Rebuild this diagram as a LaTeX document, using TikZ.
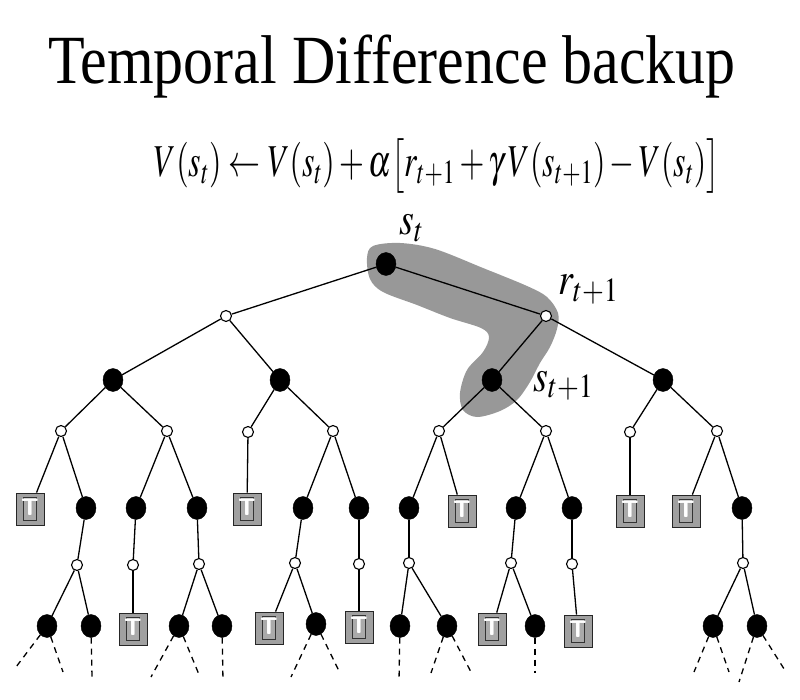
\documentclass[tikz,border=0pt]{standalone}
\usepackage{mathptmx}
\usepackage[no-math]{fontspec}
\setmainfont{Liberation Serif}
\usepackage{graphicx}
\usetikzlibrary{shapes.geometric}
\definecolor{blobgray}{RGB}{152,152,152}
\definecolor{boxgray}{RGB}{160,160,160}
\definecolor{innergray}{RGB}{170,170,170}
\tikzset{
  edge/.style={line width=1.3pt},
  dashedge/.style={line width=1.3pt, dash pattern=on 6pt off 5pt},
  bnode/.style={ellipse, fill=black, draw=black, minimum width=20pt, minimum height=23pt, inner sep=0pt},
  wnode/.style={circle, fill=white, draw=black, line width=1.1pt, minimum size=11pt, inner sep=0pt},
  tbox/.style={rectangle, fill=boxgray, draw=black!85, line width=0.8pt, minimum width=28pt, minimum height=32pt, inner sep=0pt,
    path picture={
      \draw[fill=innergray, draw=black!80, line width=0.8pt]
        ([xshift=-6.5pt,yshift=-11.5pt]path picture bounding box.center) rectangle ([xshift=6.5pt,yshift=11.5pt]path picture bounding box.center);
      \node[text=white, font=\fontsize{24}{24}\selectfont\sffamily\bfseries, inner sep=0pt, anchor=center]
        at ([yshift=2pt]path picture bounding box.center) {T};
    }},
  lbl/.style={font=\fontsize{38}{40}\selectfont, inner sep=0pt},
}
\begin{document}
\begin{tikzpicture}[x=1pt,y=-1pt]
\useasboundingbox (0,0) rectangle (800,700);
% title and formula
\node[font=\fontsize{60}{64}\selectfont, anchor=base, inner sep=0pt] (title) at (392,84) {\scalebox{1}[1.15]{Temporal Difference backup}};
\node[lbl, anchor=base] (formula) at (437,177) {\scalebox{0.84}[1.2]{$V(s_t)\leftarrow V(s_t)+\alpha\big[r_{t+1}+\gamma\,V(s_{t+1})-V(s_t)\big]$}};
% highlight blob
\fill[blobgray] plot[smooth cycle, tension=0.55] coordinates {
 (373,246) (400,243) (435,249) (483,268) (527,286) (547,297) (558,313) (557,329)
 (550,347) (540,363) (530,382) (517,400) (500,411) (477,417) (463,410) (460,393)
 (467,370) (483,352) (489,337) (481,328) (450,318) (417,305) (383,292) (370,279) (367,258)};
% labels
\node[lbl, anchor=base west] (lst) at (399,235) {\scalebox{1}[1.2]{$s_t$}};
\node[lbl, anchor=base west] (lrt) at (558,295) {\scalebox{1}[1.2]{$r_{t+1}$}};
\node[lbl, anchor=base west] (lst1) at (533,391) {\scalebox{1}[1.2]{$s_{t+1}$}};
% nodes
\node[bnode] (root) at (386,264) {};
\node[wnode] (a1) at (226,316) {};
\node[wnode] (a2) at (546,316) {};
\node[bnode] (b1) at (113,380) {};
\node[bnode] (b2) at (280,380) {};
\node[bnode] (b3) at (492,380) {};
\node[bnode] (b4) at (663,380) {};
\node[wnode] (c1) at (61,431) {};
\node[wnode] (c2) at (167,431) {};
\node[wnode] (c3) at (248,432) {};
\node[wnode] (c4) at (333,431) {};
\node[wnode] (c5) at (439,431) {};
\node[wnode] (c6) at (546,431) {};
\node[wnode] (c7) at (630,432) {};
\node[wnode] (c8) at (717,431) {};
\node[tbox] (d1) at (30,509) {};
\node[bnode] (d2) at (86,508) {};
\node[bnode] (d3) at (136,508) {};
\node[bnode] (d4) at (197,508) {};
\node[tbox] (d5) at (247,509) {};
\node[bnode] (d6) at (303,508) {};
\node[bnode] (d7) at (359,508) {};
\node[bnode] (d8) at (409,508) {};
\node[tbox] (d9) at (462,511) {};
\node[bnode] (d10) at (516,508) {};
\node[bnode] (d11) at (572,508) {};
\node[tbox] (d12) at (630,511) {};
\node[tbox] (d13) at (686,511) {};
\node[bnode] (d14) at (742,508) {};
\node[wnode] (e1) at (77,565) {};
\node[wnode] (e2) at (133,565) {};
\node[wnode] (e3) at (199,564) {};
\node[wnode] (e4) at (295,563) {};
\node[wnode] (e5) at (359,564) {};
\node[wnode] (e6) at (409,563) {};
\node[wnode] (e7) at (511,563) {};
\node[wnode] (e8) at (572,564) {};
\node[wnode] (e9) at (743,563) {};
\node[bnode] (f1) at (47,626) {};
\node[bnode] (f2) at (91,626) {};
\node[tbox] (f3) at (133,629) {};
\node[bnode] (f4) at (179,626) {};
\node[bnode] (f5) at (222,626) {};
\node[tbox] (f6) at (269,628) {};
\node[bnode] (f7) at (316,624) {};
\node[tbox] (f8) at (359,627) {};
\node[bnode] (f9) at (400,626) {};
\node[bnode] (f10) at (447,626) {};
\node[tbox] (f11) at (492,629) {};
\node[bnode] (f12) at (535,626) {};
\node[tbox] (f13) at (578,631) {};
\node[bnode] (f14) at (713,626) {};
\node[bnode] (f15) at (757,626) {};
% free ends of dashed lines
\coordinate (g1) at (16,667);  \coordinate (g2) at (63,672);
\coordinate (g3) at (92,677);
\coordinate (g4) at (151,677); \coordinate (g5) at (200,677);
\coordinate (g6) at (223,681);
\coordinate (g7) at (291,677); \coordinate (g8) at (340,673);
\coordinate (g9) at (399,681);
\coordinate (g10) at (431,673); \coordinate (g11) at (471,672);
\coordinate (g12) at (535,673);
\coordinate (g13) at (694,672); \coordinate (g14) at (729,672);
\coordinate (g15) at (739,682); \coordinate (g16) at (786,672);
% edges
\draw[edge] (root) -- (a1);
\draw[edge] (root) -- (a2);
\draw[edge] (a1) -- (b1); \draw[edge] (a1) -- (b2);
\draw[edge] (a2) -- (b3); \draw[edge] (a2) -- (b4);
\draw[edge] (b1) -- (c1); \draw[edge] (b1) -- (c2);
\draw[edge] (b2) -- (c3); \draw[edge] (b2) -- (c4);
\draw[edge] (b3) -- (c5); \draw[edge] (b3) -- (c6);
\draw[edge] (b4) -- (c7); \draw[edge] (b4) -- (c8);
\draw[edge] (c1) -- (d1); \draw[edge] (c1) -- (d2);
\draw[edge] (c2) -- (d3); \draw[edge] (c2) -- (d4);
\draw[edge] (c3) -- (d5);
\draw[edge] (c4) -- (d6); \draw[edge] (c4) -- (d7);
\draw[edge] (c5) -- (d8); \draw[edge] (c5) -- (d9);
\draw[edge] (c6) -- (d10); \draw[edge] (c6) -- (d11);
\draw[edge] (c7) -- (d12);
\draw[edge] (c8) -- (d13); \draw[edge] (c8) -- (d14);
\draw[edge] (d2) -- (e1); \draw[edge] (d3) -- (e2); \draw[edge] (d4) -- (e3);
\draw[edge] (d6) -- (e4); \draw[edge] (d7) -- (e5); \draw[edge] (d8) -- (e6);
\draw[edge] (d10) -- (e7); \draw[edge] (d11) -- (e8); \draw[edge] (d14) -- (e9);
\draw[edge] (e1) -- (f1); \draw[edge] (e1) -- (f2);
\draw[edge] (e2) -- (f3);
\draw[edge] (e3) -- (f4); \draw[edge] (e3) -- (f5);
\draw[edge] (e4) -- (f6); \draw[edge] (e4) -- (f7);
\draw[edge] (e5) -- (f8);
\draw[edge] (e6) -- (f9); \draw[edge] (e6) -- (f10);
\draw[edge] (e7) -- (f11); \draw[edge] (e7) -- (f12);
\draw[edge] (e8) -- (f13);
\draw[edge] (e9) -- (f14); \draw[edge] (e9) -- (f15);
% dashed continuations
\draw[dashedge] (f1) -- (g1); \draw[dashedge] (f1) -- (g2);
\draw[dashedge] (f2) -- (g3);
\draw[dashedge] (f4) -- (g4); \draw[dashedge] (f4) -- (g5);
\draw[dashedge] (f5) -- (g6);
\draw[dashedge] (f7) -- (g7); \draw[dashedge] (f7) -- (g8);
\draw[dashedge] (f9) -- (g9);
\draw[dashedge] (f10) -- (g10); \draw[dashedge] (f10) -- (g11);
\draw[dashedge] (f12) -- (g12);
\draw[dashedge] (f14) -- (g13); \draw[dashedge] (f14) -- (g14);
\draw[dashedge] (f15) -- (g15); \draw[dashedge] (f15) -- (g16);
\end{tikzpicture}
\end{document}
